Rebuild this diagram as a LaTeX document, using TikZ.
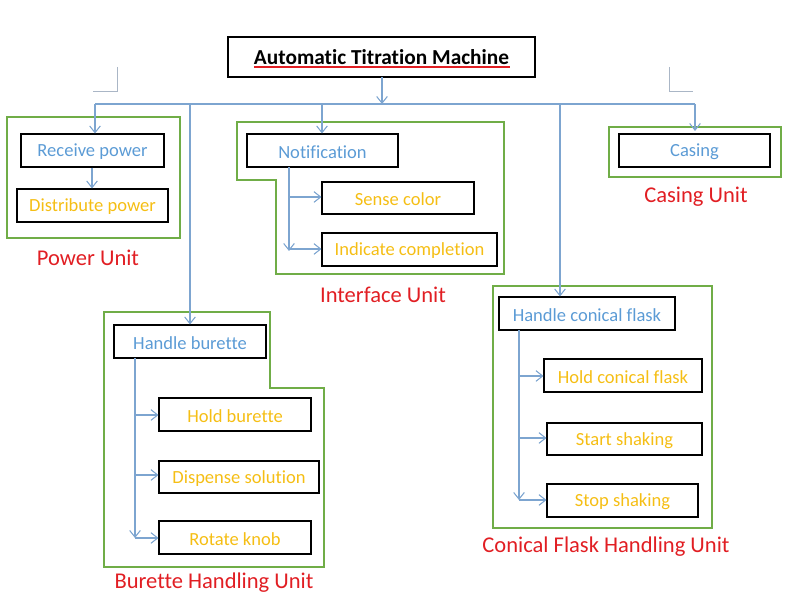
\documentclass[tikz,border=0pt]{standalone}
\usepackage{fontspec}
\setmainfont{Carlito}[Ligatures=NoCommon]
\usetikzlibrary{arrows.meta,fit,calc}
\definecolor{tblue}{RGB}{91,155,213}
\definecolor{tyellow}{RGB}{245,190,20}
\definecolor{ugreen}{RGB}{112,173,71}
\definecolor{ured}{RGB}{225,30,35}
\definecolor{cblue}{RGB}{125,165,208}
\definecolor{cmark}{RGB}{170,182,198}
\tikzset{
  box/.style={draw=black, line width=0.8pt, inner sep=0pt},
  btxt/.style={text=tblue, font=\fontsize{13.9}{15}\selectfont, inner sep=0pt, yshift=-1pt},
  ytxt/.style={text=tyellow, font=\fontsize{13.9}{15}\selectfont, inner sep=0pt, yshift=-1pt},
  bbox/.style={box, label={[btxt]center:#1}},
  ybox/.style={box, label={[ytxt]center:#1}},
  unit/.style={draw=ugreen, line width=1.5pt},
  ulabel/.style={text=ured, font=\fontsize{16.9}{19}\selectfont, inner sep=0pt},
  conn/.style={draw=cblue, line width=0.8pt},
  barb/.style={-{Straight Barb[length=5pt,width=8pt]}},
}
\begin{document}
\begin{tikzpicture}[x=0.75pt,y=-0.75pt]
\useasboundingbox (0,0) rectangle (794,613);
% crop marks
\draw[cmark, line width=0.6pt] (117,67) -- (117,91) -- (93,91);
\draw[cmark, line width=0.6pt] (669,67) -- (669,91) -- (693,91);
% title
\node[box, fit={(228,37)(535,77)}, label={[inner sep=0pt, font=\fontsize{16}{18}\bfseries\selectfont]center:Automatic Titration Machine}] (title) {};
\draw[ured, line width=0.8pt] (254,67) -- (510,67);
% unit frames
\node[unit, fit={(7,117)(180,238)}, inner sep=0pt] (pu) {};
\draw[unit] (237,122) -- (504,122) -- (504,274) -- (276,274) -- (276,180) -- (237,180) -- cycle;
\node[unit, fit={(609,127)(781,177)}, inner sep=0pt] (cu) {};
\draw[unit] (104,312) -- (270,312) -- (270,388) -- (324,388) -- (324,567) -- (104,567) -- cycle;
\node[unit, fit={(493,286)(712,528)}, inner sep=0pt] (fu) {};
% boxes
\node[bbox=Receive power, fit={(21,134)(164,167)}] (rp) {};
\node[ybox=Distribute power, fit={(17,189)(168,222)}] (dp) {};
\node[bbox=Notification, fit={(247,134)(398,167)}] (nt) {};
\node[ybox=Sense color, fit={(322,182)(474,214)}] (sc) {};
\node[ybox=Indicate completion, fit={(322,233)(497,266)}] (ic) {};
\node[bbox=Casing, fit={(619,134)(770,167)}] (cs) {};
\node[bbox=Handle burette, fit={(114,325)(266,358)}] (hb) {};
\node[ybox=Hold burette, fit={(159,398)(311,431)}] (hob) {};
\node[ybox=Dispense solution, fit={(159,461)(319,493)}] (ds) {};
\node[ybox=Rotate knob, fit={(159,521)(311,554)}] (rk) {};
\node[bbox=Handle conical flask, fit={(499,297)(675,330)}] (hcf) {};
\node[ybox=Hold conical flask, fit={(544,359)(702,392)}] (hocf) {};
\node[ybox=Start shaking, fit={(547,423)(702,455)}] (ss) {};
\node[ybox=Stop shaking, fit={(547,484)(698,517)}] (sts) {};
% labels
\node[ulabel] (lpu) at (88,258) {Power Unit};
\node[ulabel] (liu) at (383,295) {Interface Unit};
\node[ulabel] (lcu) at (696,197) {Casing Unit};
\node[ulabel] (lbu) at (214,583) {Burette Handling Unit};
\node[ulabel] (lfu) at (606,547) {Conical Flask Handling Unit};
% main connectors
\coordinate (tb) at (382,77);
\coordinate (hm) at (382,104);
\coordinate (hL) at (95,104);
\coordinate (hR) at (695,104);
\coordinate (hI) at (322,104);
\coordinate (hB) at (190,104);
\coordinate (hF) at (560,104);
\draw[conn, barb] (tb) -- (hm);
\draw[conn] (hL) -- (hR);
\draw[conn, barb] (hL) -- (hL |- rp.north);
\draw[conn, barb] (hI) -- (hI |- nt.north);
\draw[conn, barb] (hR) -- (695,131);
\draw[conn, barb] (hB) -- (hB |- hb.north);
\draw[conn, barb] (hF) -- (hF |- hcf.north);
% power unit
\draw[conn, barb] (rp.south -| 92,0) -- (dp.north -| 92,0);
% interface unit
\coordinate (nx) at (289,167);
\draw[conn, barb] (nx) -- (289,251);
\draw[conn, barb] (nx |- 0,197) -- (sc.west |- 0,197);
\draw[conn, barb] (nx |- 0,249) -- (ic.west |- 0,249);
% burette unit
\coordinate (bx) at (135,358);
\draw[conn, barb] (bx) -- (135,538);
\draw[conn, barb] (bx |- 0,415) -- (hob.west |- 0,415);
\draw[conn, barb] (bx |- 0,475) -- (ds.west |- 0,475);
\draw[conn, barb] (bx |- 0,538) -- (rk.west |- 0,538);
% conical flask unit
\coordinate (fx) at (519,330);
\draw[conn, barb] (fx) -- (519,500);
\draw[conn, barb] (fx |- 0,376) -- (hocf.west |- 0,376);
\draw[conn, barb] (fx |- 0,438) -- (ss.west |- 0,438);
\draw[conn, barb] (fx |- 0,500) -- (sts.west |- 0,500);
\end{tikzpicture}
\end{document}
